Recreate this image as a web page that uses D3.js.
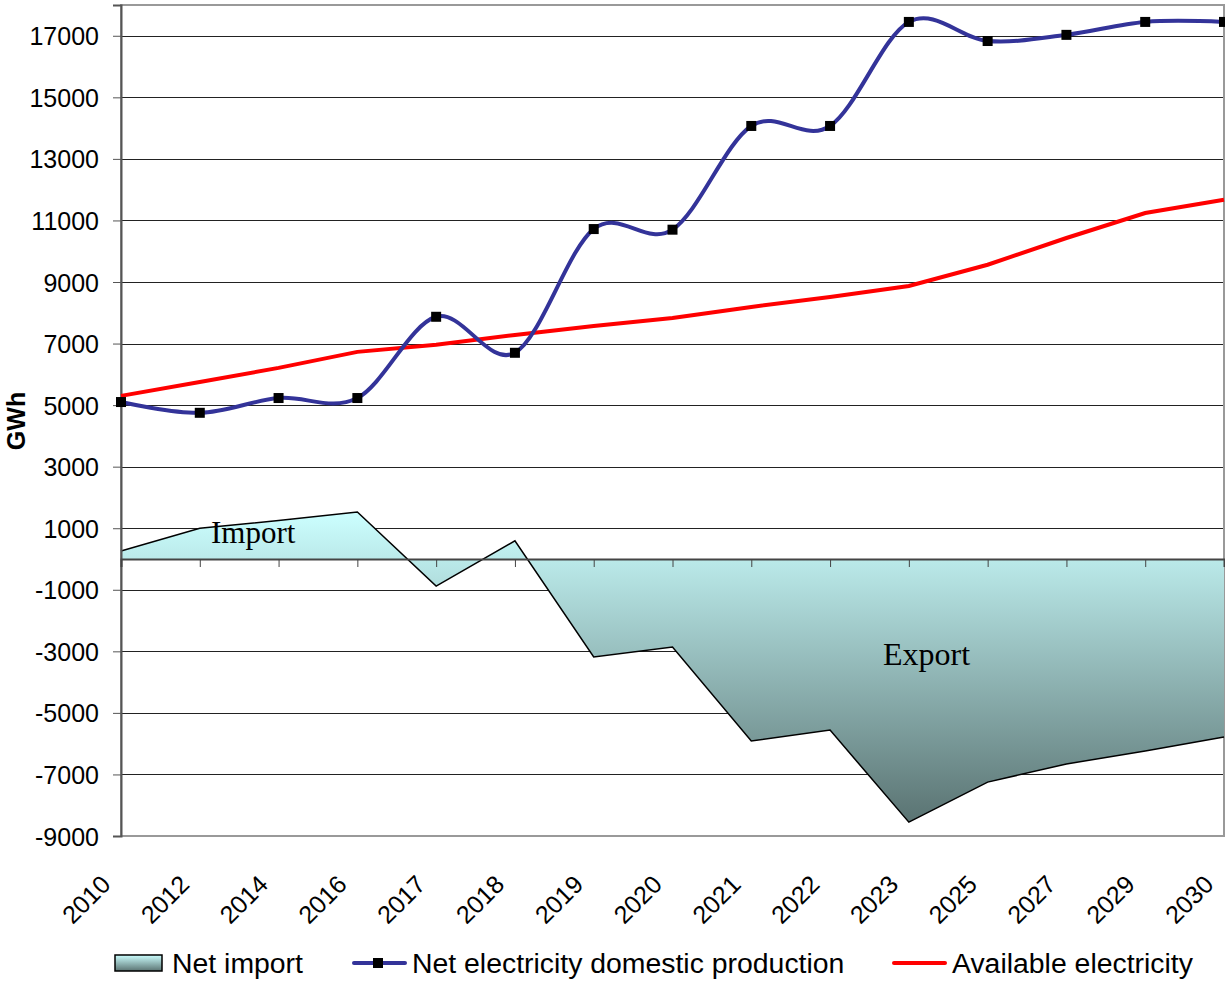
<!doctype html>
<html>
<head>
<meta charset="UTF-8">
<title>Net import / production</title>
<style>
  body { margin: 0; background: #fff; }
  svg text { font-family: Arial, "Liberation Sans", sans-serif; fill: #000; }
  .grid line { stroke: #222; stroke-width: 1px; }
</style>
</head>
<body>
<svg width="1225" height="981"></svg>
<script src="https://d3js.org/d3.v7.min.js"></script>
<script>
// chart data
const years = ["2010", "2012", "2014", "2016", "2017", "2018", "2019", "2020", "2021", "2022", "2023", "2025", "2027", "2029", "2030"];
const netImport = [260, 1000, 1250, 1530, -880, 590, -3180, -2860, -5910, -5560, -8550, -7250, -6660, -6240, -5780];
const domesticProduction = [5100, 4750, 5230, 5230, 7870, 6700, 10720, 10700, 14070, 14070, 17450, 16830, 17030, 17450, 17450];
const availableElectricity = [5300, 5750, 6210, 6730, 6960, 7280, 7570, 7830, 8190, 8510, 8870, 9560, 10430, 11240, 11670];
const yTicks = [-9000, -7000, -5000, -3000, -1000, 1000, 3000, 5000, 7000, 9000, 11000, 13000, 15000, 17000];

const svg = d3.select("svg");
const plotLeft = 121, plotRight = 1224, plotTop = 5, plotBottom = 836;

const x = d3.scalePoint().domain(years).range([plotLeft, plotRight]);
const y = d3.scaleLinear().domain([-9000, 18000]).range([plotBottom, plotTop]);

// gradient for the net import area
const defs = svg.append("defs");
const grad = defs.append("linearGradient")
    .attr("id", "areaGrad")
    .attr("gradientUnits", "userSpaceOnUse")
    .attr("x1", 0).attr("x2", 0)
    .attr("y1", y(d3.max(netImport))).attr("y2", y(d3.min(netImport)));
grad.append("stop").attr("offset", "0%").attr("stop-color", "#ccffff");
grad.append("stop").attr("offset", "100%").attr("stop-color", "#5a7372");

const legGrad = defs.append("linearGradient")
    .attr("id", "legGrad").attr("x1", 0).attr("x2", 0).attr("y1", 0).attr("y2", 1);
legGrad.append("stop").attr("offset", "0%").attr("stop-color", "#ccffff");
legGrad.append("stop").attr("offset", "100%").attr("stop-color", "#5a7372");

// horizontal gridlines
svg.append("g").attr("class", "grid")
    .selectAll("line").data(yTicks).join("line")
    .attr("x1", plotLeft).attr("x2", plotRight)
    .attr("y1", d => Math.round(y(d)) + 0.5).attr("y2", d => Math.round(y(d)) + 0.5);

// plot border
svg.append("rect")
    .attr("x", plotLeft).attr("y", plotTop)
    .attr("width", plotRight - plotLeft).attr("height", plotBottom - plotTop)
    .attr("fill", "none").attr("stroke", "#999").attr("stroke-width", 2);

// area
const area = d3.area()
    .x((d, i) => x(years[i]))
    .y0(y(0))
    .y1(d => y(d));
svg.append("path")
    .datum(netImport)
    .attr("d", area)
    .attr("fill", "url(#areaGrad)");
svg.append("path")
    .datum(netImport)
    .attr("d", d3.line().x((d, i) => x(years[i])).y(d => y(d)))
    .attr("fill", "none").attr("stroke", "#000").attr("stroke-width", 1.5);

// y axis
const yAxis = svg.append("g")
    .attr("transform", `translate(${plotLeft},0)`)
    .call(d3.axisLeft(y).tickValues(yTicks).tickSize(8).tickPadding(14).tickFormat(d => String(d)));
yAxis.select(".domain").attr("stroke", "#555").attr("stroke-width", 2);
yAxis.selectAll(".tick line").attr("stroke", "#555");
yAxis.selectAll("text").style("font-size", "25px").attr("dy", "0.36em");

// category axis at zero
const xAxis = svg.append("g")
    .attr("transform", `translate(0,${y(0)})`)
    .call(d3.axisBottom(x).tickSize(8).tickFormat(""));
xAxis.select(".domain").attr("stroke", "#444").attr("stroke-width", 2);
xAxis.selectAll(".tick line").attr("stroke", "#444");

// category labels at the bottom, rotated
svg.append("g")
    .selectAll("text").data(years).join("text")
    .attr("transform", d => `translate(${x(d) - 9},${plotBottom + 50}) rotate(-45)`)
    .attr("text-anchor", "end")
    .style("font-size", "25px")
    .text(d => d);

// available electricity
svg.append("path")
    .datum(availableElectricity)
    .attr("d", d3.line().x((d, i) => x(years[i])).y(d => y(d)))
    .attr("fill", "none").attr("stroke", "#ff0000").attr("stroke-width", 4);

// domestic production
svg.append("path")
    .datum(domesticProduction)
    .attr("d", d3.line().x((d, i) => x(years[i])).y(d => y(d)).curve(d3.curveCatmullRom.alpha(0)))
    .attr("fill", "none").attr("stroke", "#333399").attr("stroke-width", 4);
svg.append("g")
    .selectAll("rect").data(domesticProduction).join("rect")
    .attr("x", (d, i) => x(years[i]) - 5)
    .attr("y", d => y(d) - 5)
    .attr("width", 10).attr("height", 10)
    .attr("fill", "#000");

// area labels
svg.append("text").attr("x", 211).attr("y", 543)
    .style("font-family", "'Liberation Serif', 'Times New Roman', serif")
    .style("font-size", "31px").text("Import");
svg.append("text").attr("x", 883).attr("y", 665)
    .style("font-family", "'Liberation Serif', 'Times New Roman', serif")
    .style("font-size", "32px").text("Export");

// y title
svg.append("text")
    .attr("transform", "translate(25,421) rotate(-90)")
    .attr("text-anchor", "middle")
    .style("font-size", "25px").style("font-weight", "bold")
    .text("GWh");

// legend
const leg = svg.append("g");
leg.append("rect").attr("x", 115).attr("y", 955).attr("width", 47).attr("height", 16)
    .attr("fill", "url(#legGrad)").attr("stroke", "#000").attr("stroke-width", 1.5);
leg.append("text").attr("x", 172).attr("y", 973).style("font-size", "28.4px").text("Net import");

leg.append("line").attr("x1", 354).attr("x2", 405).attr("y1", 963).attr("y2", 963)
    .attr("stroke", "#333399").attr("stroke-width", 4).attr("stroke-linecap", "round");
leg.append("rect").attr("x", 373).attr("y", 958).attr("width", 10).attr("height", 10).attr("fill", "#000");
leg.append("text").attr("x", 412).attr("y", 973).style("font-size", "28.4px").text("Net electricity domestic production");

leg.append("line").attr("x1", 894).attr("x2", 945).attr("y1", 963).attr("y2", 963)
    .attr("stroke", "#ff0000").attr("stroke-width", 4).attr("stroke-linecap", "round");
leg.append("text").attr("x", 952).attr("y", 973).style("font-size", "28.4px").text("Available electricity");
</script>
</body>
</html>
